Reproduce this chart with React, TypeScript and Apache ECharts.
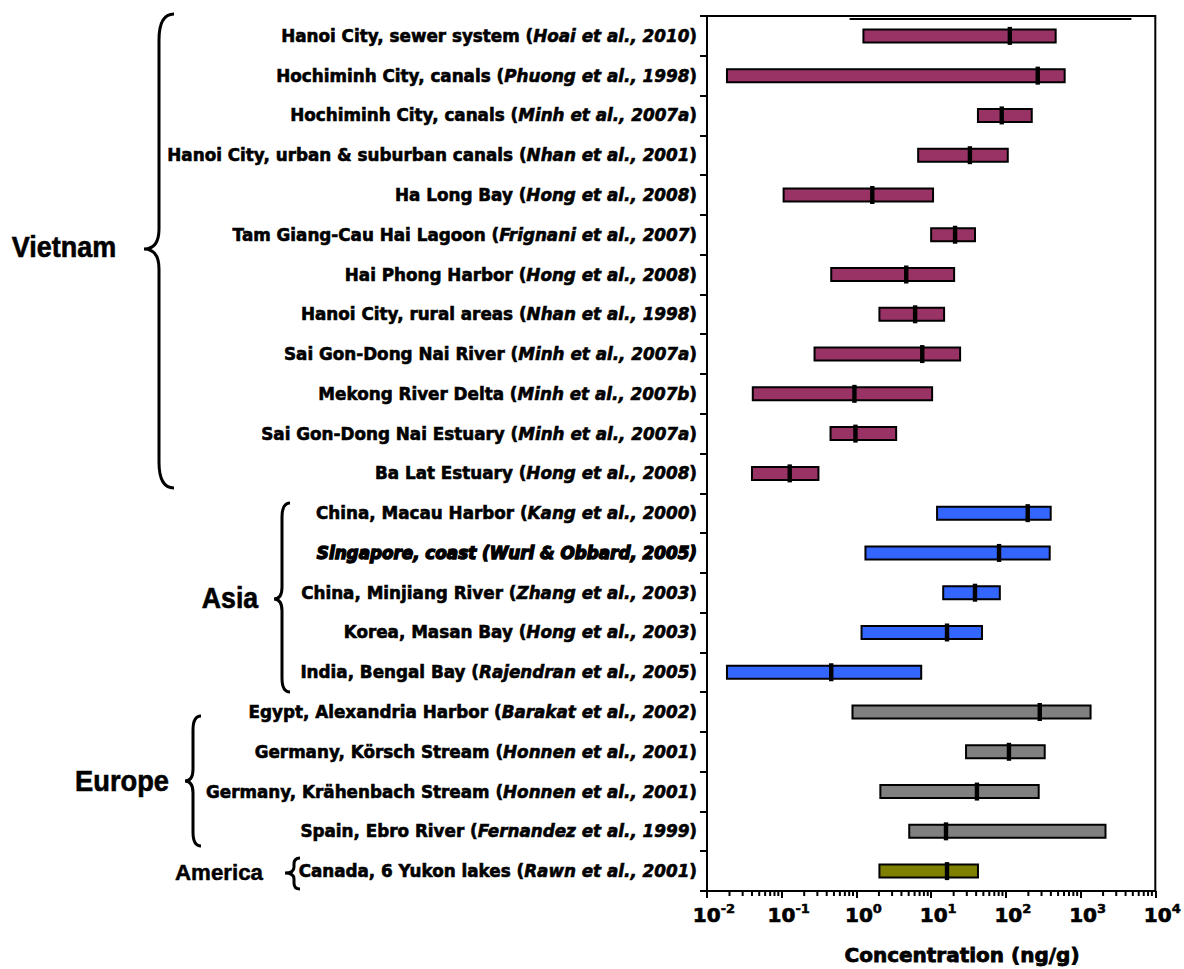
import React, { useEffect, useRef } from "react";
import * as echarts from "echarts";

const places = [
  "Hanoi City, sewer system",
  "Hochiminh City, canals",
  "Hochiminh City, canals",
  "Hanoi City, urban & suburban canals",
  "Ha Long Bay",
  "Tam Giang-Cau Hai Lagoon",
  "Hai Phong Harbor",
  "Hanoi City, rural areas",
  "Sai Gon-Dong Nai River",
  "Mekong River Delta",
  "Sai Gon-Dong Nai Estuary",
  "Ba Lat Estuary",
  "China, Macau Harbor",
  "Singapore, coast",
  "China, Minjiang River",
  "Korea, Masan Bay",
  "India, Bengal Bay",
  "Egypt, Alexandria Harbor",
  "Germany, Körsch Stream",
  "Germany, Krähenbach Stream",
  "Spain, Ebro River",
  "Canada, 6 Yukon lakes",
];
const authors = [
  "Hoai et al., 2010",
  "Phuong et al., 1998",
  "Minh et al., 2007a",
  "Nhan et al., 2001",
  "Hong et al., 2008",
  "Frignani et al., 2007",
  "Hong et al., 2008",
  "Nhan et al., 1998",
  "Minh et al., 2007a",
  "Minh et al., 2007b",
  "Minh et al., 2007a",
  "Hong et al., 2008",
  "Kang et al., 2000",
  "Wurl & Obbard, 2005",
  "Zhang et al., 2003",
  "Hong et al., 2003",
  "Rajendran et al., 2005",
  "Barakat et al., 2002",
  "Honnen et al., 2001",
  "Honnen et al., 2001",
  "Fernandez et al., 1999",
  "Rawn et al., 2001",
];
const lows = [1.24, 0.0185, 42.3, 6.7, 0.106, 10, 0.46, 2.03, 0.275, 0.041, 0.45, 0.04, 12, 1.32, 14.5, 1.17, 0.0185, 0.885, 29.3, 2.09, 5.09, 2.03];
const highs = [464, 612, 222, 106, 10.6, 38.6, 20.3, 14.9, 24.4, 10.3, 3.4, 0.31, 398, 386, 83, 47.9, 7.36, 1360, 331, 275, 2154, 42.3];
const medians = [113, 267, 88, 33, 1.63, 20.9, 4.64, 6.1, 7.6, 0.94, 0.97, 0.128, 196, 81, 38.6, 16.3, 0.46, 284, 110, 41, 15.8, 16.3];
const regionOf = [0, 0, 0, 0, 0, 0, 0, 0, 0, 0, 0, 0, 1, 1, 1, 1, 1, 2, 2, 2, 2, 3];
const regionNames = ["Vietnam", "Asia", "Europe", "America"];
const regionColors = ["#993366", "#3366FF", "#808080", "#808000"];
// bottom edge of a cropped bar from a row above the plot
const topStub = [0.81, 4786];
const majorTicks = [0.01, 0.1, 1, 10, 100, 1000, 10000];
const minorMantissas = [2, 3, 4, 5, 6, 7, 8, 9];

const FONT = "'DejaVu Sans', sans-serif";
const BIG = "'Liberation Sans', Arial, sans-serif";

function bracePath(x: number, top: number, bottom: number, tipY: number, curl: number, r: number, tipX: number, rt: number) {
  return (
    `M ${x + curl} ${top} Q ${x} ${top} ${x} ${top + r} ` +
    `L ${x} ${tipY - rt} Q ${x} ${tipY} ${tipX} ${tipY} ` +
    `Q ${x} ${tipY} ${x} ${tipY + rt} ` +
    `L ${x} ${bottom - r} Q ${x} ${bottom} ${x + curl} ${bottom}`
  );
}

const braces = [
  { name: "braceVN", d: bracePath(159, 14, 488, 249, 15, 26, 144, 20) },
  { name: "braceAS", d: bracePath(282, 503, 692, 599, 8, 14, 274, 12) },
  { name: "braceEU", d: bracePath(193, 716, 846, 781, 8, 14, 185, 12) },
  { name: "braceAM", d: bracePath(294, 858, 889, 873, 6, 6, 285, 6) },
];
let registered = false;
function registerBraces() {
  if (registered) return;
  registered = true;
  braces.forEach((b) => {
    echarts.graphic.registerShape(b.name, echarts.graphic.extendPath(b.d, {}));
  });
}

export default function App() {
  const ref = useRef<HTMLDivElement>(null);
  useEffect(() => {
    if (!ref.current) return;
    registerBraces();
    const chart = echarts.init(ref.current, null, { renderer: "svg" });
    const barData = places.map((_, i) => [i, lows[i], highs[i], medians[i], regionOf[i]]);
    const minorData: number[][] = [];
    for (let k = 0; k < majorTicks.length - 1; k++) {
      minorMantissas.forEach((m) => minorData.push([m * majorTicks[k], 0]));
    }
    const heavy = { textBorderColor: "#000", textBorderWidth: 0.6 };
    const FS = 16.8;
    const labelRich = {
      n: { fontFamily: FONT, fontWeight: "bold", fontSize: FS, color: "#000", ...heavy },
      i: { fontFamily: FONT, fontWeight: "bold", fontStyle: "italic", fontSize: FS, color: "#000", ...heavy },
      s: {
        fontFamily: FONT, fontWeight: "bold", fontStyle: "italic", fontSize: FS, color: "#000",
        textBorderColor: "#000", textBorderWidth: 1.4,
      },
    };
    const option: any = {
      animation: false,
      backgroundColor: "#fff",
      grid: {
        left: 707, right: 27, top: 16, bottom: 78,
        show: true, borderColor: "#000", borderWidth: 2, backgroundColor: "transparent",
      },
      xAxis: {
        type: "log",
        logBase: 10,
        min: 0.01,
        max: 10000,
        splitLine: { show: false },
        axisLine: { show: true, lineStyle: { color: "#000", width: 2 } },
        axisTick: { show: true, length: 7, inside: false, lineStyle: { color: "#000", width: 2 } },
        axisLabel: {
          margin: 11,
          padding: [0, 0, 0, 14],
          formatter: (v: number) => `{b|10}{s|${Math.round(Math.log10(v))}}`,
          rich: {
            b: { fontFamily: FONT, fontWeight: "bold", fontSize: 20, color: "#000", lineHeight: 26, textBorderColor: "#000", textBorderWidth: 0.7 },
            s: { fontFamily: FONT, fontWeight: "bold", fontSize: 13, color: "#000", lineHeight: 26, verticalAlign: "top", textBorderColor: "#000", textBorderWidth: 0.5 },
          },
        },
      },
      yAxis: {
        type: "category",
        inverse: true,
        data: places.map((p, i) => String(i)),
        axisLine: { show: true, lineStyle: { color: "#000", width: 2 } },
        axisTick: { show: true, length: 7, inside: false, alignWithLabel: false, interval: 0, lineStyle: { color: "#000", width: 2 } },
        splitLine: { show: false },
        axisLabel: {
          interval: 0,
          margin: 10,
          formatter: (v: string) => {
            const i = Number(v);
            if (i === 13) return `{s|${places[i]} (${authors[i]})}`;
            return `{n|${places[i]} (}{i|${authors[i]}}{n|)}`;
          },
          rich: labelRich,
        },
      },
      series: [
        {
          type: "custom",
          coordinateSystem: "cartesian2d",
          clip: false,
          encode: { x: [1, 2, 3], y: 0 },
          data: barData,
          renderItem: (params: any, api: any) => {
            const cat = api.value(0);
            const p1 = api.coord([api.value(1), cat]);
            const p2 = api.coord([api.value(2), cat]);
            const pm = api.coord([api.value(3), cat]);
            const h = 13;
            return {
              type: "group",
              children: [
                {
                  type: "rect",
                  shape: { x: p1[0], y: p1[1] - h / 2, width: p2[0] - p1[0], height: h },
                  style: { fill: regionColors[api.value(4)], stroke: "#000", lineWidth: 2 },
                },
                {
                  type: "rect",
                  shape: { x: pm[0] - 2.2, y: pm[1] - 9, width: 4.4, height: 18 },
                  style: { fill: "#000" },
                },
              ],
            };
          },
        },
        {
          type: "custom",
          coordinateSystem: "cartesian2d",
          clip: false,
          encode: { x: 0, y: 1 },
          data: minorData,
          silent: true,
          renderItem: (params: any, api: any) => {
            const p = api.coord([api.value(0), 0]);
            const bottom = params.coordSys.y + params.coordSys.height;
            return {
              type: "line",
              shape: { x1: p[0], y1: bottom, x2: p[0], y2: bottom + 5 },
              style: { stroke: "#000", lineWidth: 2 },
            };
          },
        },
        {
          type: "custom",
          coordinateSystem: "cartesian2d",
          clip: false,
          encode: { x: [0, 1], y: 2 },
          data: [[topStub[0], topStub[1], 0]],
          silent: true,
          renderItem: (params: any, api: any) => {
            const a = api.coord([api.value(0), 0]);
            const b = api.coord([api.value(1), 0]);
            const y = params.coordSys.y + 3;
            return {
              type: "line",
              shape: { x1: a[0], y1: y, x2: b[0], y2: y },
              style: { stroke: "#000", lineWidth: 2 },
            };
          },
        },
      ],
      graphic: [
        ...braces.map((b) => ({
          type: b.name,
          x: 0,
          y: 0,
          silent: true,
          style: { fill: "none", stroke: "#000", lineWidth: 3 },
        })),
        {
          type: "text", x: 64, y: 247, scaleX: 0.93, silent: true,
          style: { text: regionNames[0], font: `bold 29px ${BIG}`, fill: "#000", textAlign: "center", textVerticalAlign: "middle", stroke: "#000", lineWidth: 0.6 },
        },
        {
          type: "text", x: 230, y: 598, scaleX: 0.92, silent: true,
          style: { text: regionNames[1], font: `bold 29px ${BIG}`, fill: "#000", textAlign: "center", textVerticalAlign: "middle", stroke: "#000", lineWidth: 0.6 },
        },
        {
          type: "text", x: 122, y: 781, scaleX: 0.94, silent: true,
          style: { text: regionNames[2], font: `bold 29px ${BIG}`, fill: "#000", textAlign: "center", textVerticalAlign: "middle", stroke: "#000", lineWidth: 0.6 },
        },
        {
          type: "text", x: 219, y: 872, scaleX: 0.97, silent: true,
          style: { text: regionNames[3], font: `bold 23px ${BIG}`, fill: "#000", textAlign: "center", textVerticalAlign: "middle", stroke: "#000", lineWidth: 0.5 },
        },
        {
          type: "text", x: 962, y: 955, silent: true,
          style: { text: "Concentration (ng/g)", font: `bold 20px ${FONT}`, fill: "#000", textAlign: "center", textVerticalAlign: "middle", stroke: "#000", lineWidth: 0.8 },
        },
      ],
    };
    chart.setOption(option);
    return () => chart.dispose();
  }, []);
  return (
    <div
      ref={ref}
      style={{ position: "absolute", left: 0, top: 0, width: 1184, height: 969, background: "#fff" }}
    />
  );
}
